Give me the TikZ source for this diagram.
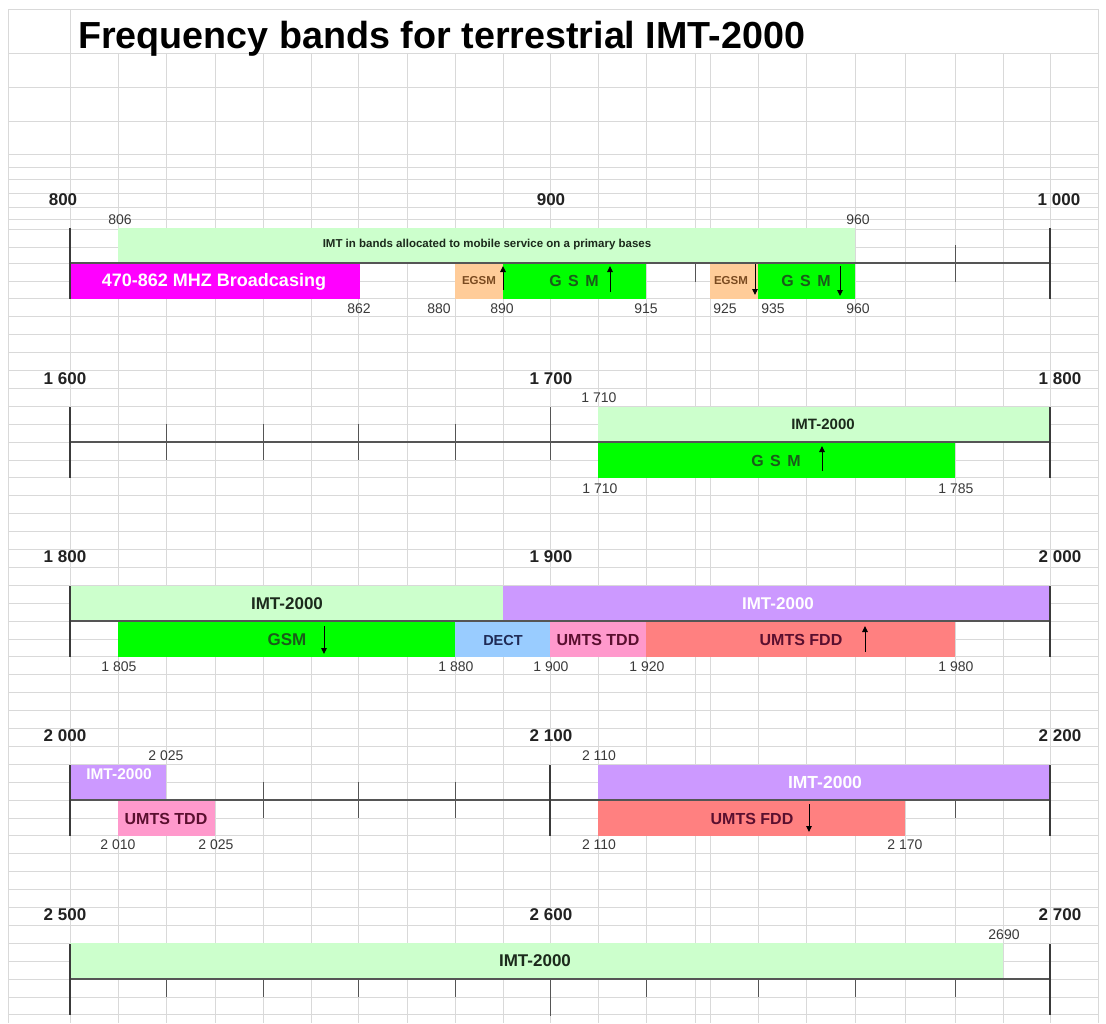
\documentclass[tikz,border=0pt]{standalone}
\usepackage{fontspec}
\setmainfont{Liberation Sans}
\usetikzlibrary{arrows.meta,fit}

\definecolor{gridgray}{HTML}{D9D9D9}
\definecolor{axisgray}{HTML}{555555}
\definecolor{tickgray}{HTML}{3A3A3A}
\definecolor{headgray}{HTML}{222222}
\definecolor{numgray}{HTML}{3A3A3A}
\definecolor{imtgreen}{HTML}{CCFFCC}
\definecolor{gsmgreen}{HTML}{00FF00}
\definecolor{bcmagenta}{HTML}{FF00FF}
\definecolor{egsmpeach}{HTML}{FFCC99}
\definecolor{imtpurple}{HTML}{CC99FF}
\definecolor{dectblue}{HTML}{99CCFF}
\definecolor{tddpink}{HTML}{FF99CC}
\definecolor{fddsalmon}{HTML}{FF8080}
\definecolor{darkgreentext}{HTML}{1A5C1A}
\definecolor{imttext}{HTML}{1C2A1C}
\definecolor{egsmtext}{HTML}{7A4A20}
\definecolor{decttext}{HTML}{1F2A55}
\definecolor{umtstext}{HTML}{5A0F2F}

\newcommand{\setfs}[1]{\fontsize{#1}{#1}\selectfont}
% a filled band between two column positions and two row positions
\newcommand{\band}[6]{\node[band, fill=#6, fit={(#2,#3) (#4,#5)}] (#1) {};}
% spaced-out band name
\newcommand{\spacedgsm}{G\hspace{6.5pt}S\hspace{6.5pt}M}

\tikzset{
  grid/.style={draw=gridgray, line width=0.7pt},
  axisline/.style={draw=axisgray, line width=1.2pt},
  majortick/.style={draw=tickgray, line width=1.8pt},
  minortick/.style={draw=axisgray, line width=1pt},
  band/.style={inner sep=0pt, outer sep=0pt, draw=none},
  head/.style={font=\bfseries\setfs{17}, text=headgray, inner sep=0pt},
  edgelbl/.style={font=\setfs{14}, text=numgray, inner sep=0pt},
  tag/.style={font=\bfseries\setfs{16}, inner sep=0pt},
  dirarrow/.style={-{Triangle[length=6pt,width=5.5pt]}, line width=1pt, black},
}

\begin{document}
\begin{tikzpicture}[x=1pt, y=-1pt]
\useasboundingbox (0,0) rectangle (1106,1023);
\fill[white] (0,0) rectangle (1106,1023);

% spreadsheet grid
\draw[grid] (8,9) -- (1098,9);
\foreach \x in {8,70,1098} \draw[grid] (\x,9) -- (\x,1023);
\foreach \x in {118,166,215,263,311,358,407,455,503,550,598,646,695,710,758,806,855,905,955,1003,1050}
  \draw[grid] (\x,53) -- (\x,1023);
\foreach \y in {53,87,121,154,167,179,193,207,219,229,247}
  \draw[grid] (8,\y) -- (1098,\y);
\foreach \k in {0,...,42}
  \draw[grid] (8,{263+17.9*\k}) -- (1098,{263+17.9*\k});

% title
\node[anchor=base west, font=\bfseries\setfs{37.7}, inner sep=0pt] (title) at (78,48)
  {Frequency bands for terrestrial IMT-2000};

% ---------- minor ticks (drawn below the bands) ----------
\foreach \x in {695,955} \draw[minortick] (\x,245) -- (\x,282);
\foreach \x in {166,263,358,455} \draw[minortick] (\x,424) -- (\x,460);
\draw[minortick] (550,407) -- (550,460);
\foreach \x in {263,358,455} \draw[minortick] (\x,782) -- (\x,818);
\draw[minortick] (955,800) -- (955,818);
\draw[minortick] (550,765) -- (550,836);
\foreach \x in {166,263,358,455,646,758,855,955} \draw[minortick] (\x,979) -- (\x,997);
\draw[minortick] (550,979) -- (550,1016);

% ---------- 800 - 1000 MHz ----------
\band{imtA}{118}{228}{855}{263}{imtgreen}
\band{bcast}{70}{263}{360}{299}{bcmagenta}
\band{egsmUp}{455}{263}{503}{299}{egsmpeach}
\band{gsmUp}{503}{263}{646}{299}{gsmgreen}
\band{egsmDown}{710}{263}{758}{299}{egsmpeach}
\band{gsmDown}{758}{263}{855}{299}{gsmgreen}

% ---------- 1600 - 1800 MHz ----------
\band{imtB}{598}{407}{1050}{442}{imtgreen}
\band{gsmB}{598}{442}{955}{478}{gsmgreen}

% ---------- 1800 - 2000 MHz ----------
\band{imtC}{70}{586}{503}{621}{imtgreen}
\band{imtCp}{503}{586}{1050}{621}{imtpurple}
\band{gsmC}{118}{621}{455}{657}{gsmgreen}
\band{dect}{455}{621}{550}{657}{dectblue}
\band{tddC}{550}{621}{646}{657}{tddpink}
\band{fddC}{646}{621}{955}{657}{fddsalmon}

% ---------- 2000 - 2200 MHz ----------
\band{imtD}{70}{765}{166}{800}{imtpurple}
\band{tddD}{118}{800}{215}{836}{tddpink}
\band{imtDp}{598}{765}{1050}{800}{imtpurple}
\band{fddD}{598}{800}{905}{836}{fddsalmon}

% ---------- 2500 - 2700 MHz ----------
\band{imtE}{70}{943}{1003}{979}{imtgreen}

% axis lines and end ticks
\foreach \a in {263,442,621,800,979} {
  \draw[axisline] (70,\a) -- (1050,\a);
  \draw[majortick] (70,{\a-35}) -- (70,{\a+36});
  \draw[majortick] (1050,{\a-35}) -- (1050,{\a+36});
}
\draw[majortick] (550,765) -- (550,836);

% ---------- scale headings ----------
\node[head] (h800)  at (63,200)   {800};
\node[head] (h900)  at (551,200)  {900};
\node[head] (h1000) at (1059,200) {1 000};
\node[head] (h1600) at (65,379)   {1 600};
\node[head] (h1700) at (551,379)  {1 700};
\node[head] (h1800a) at (1060,379) {1 800};
\node[head] (h1800b) at (65,557)  {1 800};
\node[head] (h1900) at (551,557)  {1 900};
\node[head] (h2000a) at (1060,557) {2 000};
\node[head] (h2000b) at (65,736)  {2 000};
\node[head] (h2100) at (551,736)  {2 100};
\node[head] (h2200) at (1060,736) {2 200};
\node[head] (h2500) at (65,915)   {2 500};
\node[head] (h2600) at (551,915)  {2 600};
\node[head] (h2700) at (1060,915) {2 700};

% ---------- band edge values ----------
\node[edgelbl] (e806)  at (120,220) {806};
\node[edgelbl] (e960a) at (858,220) {960};
\node[edgelbl] (e862)  at (359,309) {862};
\node[edgelbl] (e880)  at (439,309) {880};
\node[edgelbl] (e890)  at (502,309) {890};
\node[edgelbl] (e915)  at (646,309) {915};
\node[edgelbl] (e925)  at (725,309) {925};
\node[edgelbl] (e935)  at (773,309) {935};
\node[edgelbl] (e960b) at (858,309) {960};

\node[edgelbl] (e1710a) at (599,398) {1 710};
\node[edgelbl] (e1710b) at (600,489) {1 710};
\node[edgelbl] (e1785)  at (956,489) {1 785};

\node[edgelbl] (e1805) at (119,667) {1 805};
\node[edgelbl] (e1880) at (456,667) {1 880};
\node[edgelbl] (e1900) at (551,667) {1 900};
\node[edgelbl] (e1920) at (647,667) {1 920};
\node[edgelbl] (e1980) at (956,667) {1 980};

\node[edgelbl] (e2025a) at (166,756) {2 025};
\node[edgelbl] (e2110a) at (599,756) {2 110};
\node[edgelbl] (e2010)  at (118,845) {2 010};
\node[edgelbl] (e2025b) at (216,845) {2 025};
\node[edgelbl] (e2110b) at (599,845) {2 110};
\node[edgelbl] (e2170)  at (905,845) {2 170};

\node[edgelbl] (e2690) at (1004,935) {2690};

% ---------- band names ----------
\node[tag, font=\bfseries\setfs{11.5}, text=imttext] (tImtA) at (487,245)
  {IMT in bands allocated to mobile service on a primary bases};
\node[tag, font=\bfseries\setfs{18}, text=white] (tBcast) at (214,282) {470-862 MHZ Broadcasing};
\node[tag, font=\bfseries\setfs{11.5}, text=egsmtext] (tEgsmUp) at (479,281) {EGSM};
\node[tag, text=darkgreentext] (tGsmUp) at (574,281) {\spacedgsm};
\node[tag, font=\bfseries\setfs{11.5}, text=egsmtext] (tEgsmDown) at (731,281) {EGSM};
\node[tag, text=darkgreentext] (tGsmDown) at (806,281) {\spacedgsm};

\node[tag, font=\bfseries\setfs{15}, text=imttext] (tImtB) at (823,424) {IMT-2000};
\node[tag, text=darkgreentext] (tGsmB) at (776,461) {\spacedgsm};

\node[tag, font=\bfseries\setfs{17}, text=imttext] (tImtC) at (287,604) {IMT-2000};
\node[tag, font=\bfseries\setfs{17}, text=white] (tImtCp) at (778,604) {IMT-2000};
\node[tag, font=\bfseries\setfs{17}, text=darkgreentext] (tGsmC) at (287,640) {GSM};
\node[tag, font=\bfseries\setfs{14.5}, text=decttext] (tDect) at (503,640) {DECT};
\node[tag, text=umtstext] (tTddC) at (598,640) {UMTS TDD};
\node[tag, text=umtstext] (tFddC) at (801,640) {UMTS FDD};

\node[tag, font=\bfseries\setfs{15.5}, text=white] (tImtD) at (119,774) {IMT-2000};
\node[tag, text=umtstext] (tTddD) at (166,819) {UMTS TDD};
\node[tag, font=\bfseries\setfs{17.5}, text=white] (tImtDp) at (825,782) {IMT-2000};
\node[tag, text=umtstext] (tFddD) at (752,819) {UMTS FDD};

\node[tag, font=\bfseries\setfs{17}, text=imttext] (tImtE) at (535,961) {IMT-2000};

% ---------- direction arrows ----------
\draw[dirarrow] (503,290) -- (503,266);
\draw[dirarrow] (610,292) -- (610,266);
\draw[dirarrow] (755,264) -- (755,295);
\draw[dirarrow] (840,266) -- (840,296);
\draw[dirarrow] (822,471) -- (822,446);
\draw[dirarrow] (324,626) -- (324,654);
\draw[dirarrow] (865,652) -- (865,626);
\draw[dirarrow] (809,804) -- (809,832);
\end{tikzpicture}
\end{document}
